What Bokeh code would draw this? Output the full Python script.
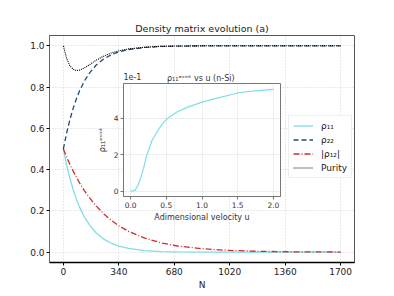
from bokeh.plotting import figure
from bokeh.models import (FixedTicker, Legend, LegendItem, Label, Range1d)
from bokeh.layouts import column
from bokeh.embed import file_html
from bokeh.resources import INLINE

# ---- main data ----
N = [0, 20, 40, 60, 80, 100, 130, 160, 200, 250, 300, 340, 400, 500, 600, 700, 850, 1000, 1200, 1400, 1700]
rho11 = [0.5, 0.423, 0.358, 0.303, 0.257, 0.217, 0.169, 0.132, 0.094, 0.062, 0.041, 0.029, 0.018, 0.008,
         0.003, 0.0015, 0.0004, 0.0001, 0.0, 0.0, 0.0]
rho22 = [0.5, 0.577, 0.642, 0.697, 0.743, 0.783, 0.831, 0.868, 0.906, 0.938, 0.959, 0.971, 0.982, 0.992,
         0.997, 0.9985, 0.9996, 0.9999, 1.0, 1.0, 1.0]
rho12 = [0.5, 0.462, 0.426, 0.393, 0.363, 0.335, 0.297, 0.264, 0.225, 0.184, 0.151, 0.128, 0.101, 0.068,
         0.045, 0.030, 0.017, 0.009, 0.004, 0.002, 0.0006]
purity = [1.0, 0.939, 0.903, 0.887, 0.880, 0.882, 0.893, 0.908, 0.930, 0.951, 0.967, 0.976, 0.985, 0.993,
          0.998, 0.999, 1.0, 1.0, 1.0, 1.0, 1.0]
x_ticks = [0, 340, 680, 1020, 1360, 1700]
y_ticks = [0.0, 0.2, 0.4, 0.6, 0.8, 1.0]

# ---- inset data ----
u = [0, 0.06, 0.1, 0.13, 0.18, 0.22, 0.3, 0.4, 0.5, 0.65, 0.8, 1.0, 1.2, 1.5, 1.75, 2.0]
rho11_asint = [0.0, 0.005, 0.03, 0.06, 0.124, 0.19, 0.28, 0.345, 0.395, 0.435, 0.462, 0.49, 0.51,
               0.54, 0.552, 0.56]
inset_x_ticks = [0.0, 0.5, 1.0, 1.5, 2.0]
inset_y_ticks = [0.0, 0.2, 0.4]

FONT = "DejaVu Sans"
TXT = "#222222"
C11 = "#7fdde9"
C22 = "#1f4a6e"
C12 = "#d42a2a"

p = figure(width=386, height=292, output_backend="svg", toolbar_location=None,
           x_range=Range1d(-85, 1785), y_range=Range1d(-0.05, 1.05),
           min_border_left=49, min_border_right=32, min_border_top=35, min_border_bottom=29)
p.title.text = "Density matrix evolution (a)"
p.title.align = "center"
p.title.text_font = FONT
p.title.text_font_size = "9.5px"
p.title.text_font_style = "normal"
p.title.text_color = TXT
p.title.standoff = 3

r11 = p.line(N, rho11, color=C11, line_width=1.3)
r22 = p.line(N, rho22, color=C22, line_width=1.3, line_dash="5 3")
r12 = p.line(N, rho12, color=C12, line_width=1.3, line_dash="6 2 1 2")
rp = p.line(N, purity, color="black", line_width=1.1, line_dash="1 1")

p.xaxis.ticker = FixedTicker(ticks=x_ticks)
p.yaxis.ticker = FixedTicker(ticks=y_ticks)
p.yaxis.major_label_overrides = {v: f"{v:.1f}" for v in y_ticks}
p.xaxis.axis_label = "N"
for ax in (p.xaxis, p.yaxis):
    ax.major_label_text_font = FONT
    ax.major_label_text_font_size = "9px"
    ax.major_label_text_color = TXT
    ax.axis_label_text_font = FONT
    ax.axis_label_text_font_size = "9px"
    ax.axis_label_text_font_style = "normal"
    ax.axis_label_text_color = TXT
    ax.minor_tick_line_color = None
    ax.major_tick_in = 0
    ax.major_tick_out = 3
    ax.major_label_standoff = 2
    ax.axis_label_standoff = 2
p.yaxis.axis_line_color = "#666"
p.xaxis.axis_line_color = "black"
p.xaxis.axis_line_width = 1.5
p.outline_line_color = "#555"
p.grid.grid_line_color = "#c8c8c8"
p.grid.grid_line_dash = "1 2"
p.grid.grid_line_width = 0.8

legend = Legend(items=[
    LegendItem(label="ρ₁₁", renderers=[r11]),
    LegendItem(label="ρ₂₂", renderers=[r22]),
    LegendItem(label="|ρ₁₂|", renderers=[r12]),
    LegendItem(label="Purity", renderers=[rp]),
], location=(239, 84))
legend.label_text_font = FONT
legend.label_text_font_size = "9px"
legend.label_text_color = TXT
legend.glyph_width = 20
legend.glyph_height = 11
legend.label_height = 11
legend.spacing = 3
legend.padding = 4
legend.margin = 0
legend.label_standoff = 8
legend.border_line_color = "#dddddd"
legend.background_fill_alpha = 0.9
p.add_layout(legend)

# offset text of the inset's y axis (sits just above the inset's top-left corner)
p.add_layout(Label(x=368, y=0.85, text="1e-1", text_font=FONT, text_font_size="8px",
                   text_color="#333", text_baseline="middle", text_align="left"))

# ---- inset (borders aligned with the main figure by the column layout) ----
ins = figure(frame_width=157, frame_height=113, output_backend="svg", toolbar_location=None,
             x_range=Range1d(-0.1, 2.1), y_range=Range1d(-0.029, 0.592),
             min_border_left=49, min_border_right=32, min_border_top=17, min_border_bottom=26)
ins.line(u, rho11_asint, color=C11, line_width=1.2)
ins.title.text = "ρ₁₁ᵃˢⁱⁿᵗ  vs u (n-Si)"
ins.title.align = "center"
ins.title.text_font = FONT
ins.title.text_font_size = "8px"
ins.title.text_font_style = "normal"
ins.title.text_color = "#333"
ins.title.standoff = 2
ins.xaxis.ticker = FixedTicker(ticks=inset_x_ticks)
ins.yaxis.ticker = FixedTicker(ticks=inset_y_ticks)
ins.xaxis.major_label_overrides = {v: f"{v:.1f}" for v in inset_x_ticks}
ins.yaxis.major_label_overrides = {v: f"{round(v * 10)}" for v in inset_y_ticks}
ins.xaxis.axis_label = "Adimensional velocity u"
ins.yaxis.axis_label = "ρ₁₁ᵃˢⁱⁿᵗ"
for ax in (ins.xaxis, ins.yaxis):
    ax.major_label_text_font = FONT
    ax.major_label_text_font_size = "7.5px"
    ax.major_label_text_color = "#333"
    ax.axis_label_text_font = FONT
    ax.axis_label_text_font_size = "8px"
    ax.axis_label_text_font_style = "normal"
    ax.axis_label_text_color = "#333"
    ax.minor_tick_line_color = None
    ax.major_tick_in = 0
    ax.major_tick_out = 3
    ax.major_label_standoff = 2
    ax.axis_label_standoff = 2
    ax.axis_line_color = "#777"
    ax.major_tick_line_color = "#777"
ins.yaxis.axis_label_standoff = 4
ins.outline_line_color = "#777"
ins.grid.grid_line_color = "#e6e6e6"
ins.grid.grid_line_width = 0.7
ins.border_fill_alpha = 0
ins.background_fill_color = "white"
ins.styles = {"position": "absolute", "left": "74px", "top": "66px"}

lay = column(p, ins)
lay.styles = {"position": "relative"}

open("out.html", "w").write(file_html(lay, INLINE))
